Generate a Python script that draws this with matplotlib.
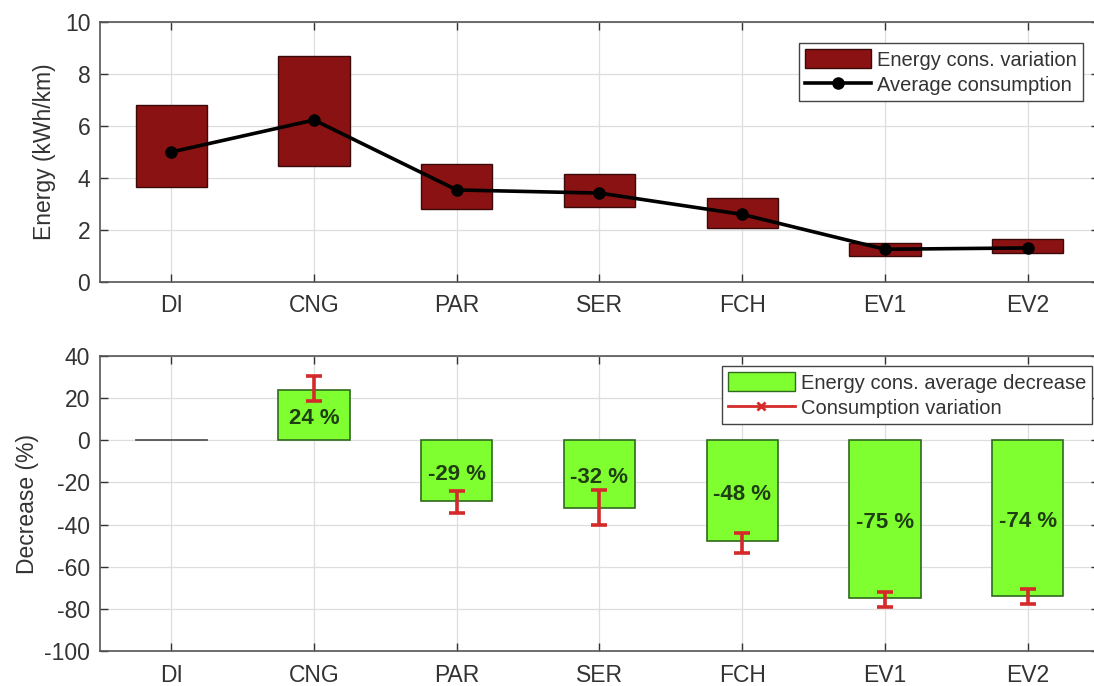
import matplotlib
matplotlib.use("Agg")
import matplotlib.pyplot as plt
from matplotlib.lines import Line2D
from matplotlib.patches import Patch
import numpy as np

plt.rcParams['font.family'] = ['Liberation Sans', 'DejaVu Sans']
plt.rcParams['axes.unicode_minus'] = False

# Vehicle powertrains
vehicles = ["DI", "CNG", "PAR", "SER", "FCH", "EV1", "EV2"]

# Energy consumption (kWh/km): range and average
cons_min = [3.65, 4.47, 2.80, 2.88, 2.07, 1.01, 1.10]
cons_max = [6.80, 8.70, 4.54, 4.15, 3.22, 1.49, 1.64]
cons_avg = [5.00, 6.23, 3.54, 3.42, 2.60, 1.26, 1.31]

# Average decrease relative to DI (%) and consumption variation bounds (%)
decrease = [0, 24, -29, -32, -48, -75, -74]
var_low = [0, 18.6, -34.3, -40.3, -53.6, -79.0, -77.7]
var_high = [0, 30.5, -24.0, -23.6, -43.8, -72.2, -70.6]

W, H = 1094, 686
fig = plt.figure(figsize=(W / 100, H / 100), dpi=100)
ax1 = fig.add_axes([100 / W, 1 - 282 / H, 999 / W, 260 / H])
ax2 = fig.add_axes([100 / W, 1 - 651 / H, 999 / W, 295 / H])

x = np.arange(1, len(vehicles) + 1)
txt = "#333333"
box_red = "#8a1212"
green = "#80ff30"
err_red = "#d42a2a"

for ax in (ax1, ax2):
    ax.set_xlim(0.5, 7.5)
    ax.set_xticks(x)
    ax.set_xticklabels(vehicles)
    ax.grid(True, color="#dedede", linewidth=0.9)
    ax.set_axisbelow(True)
    ax.tick_params(direction="in", length=6, width=1.0, colors="#333333",
                   labelcolor=txt, labelsize=16.5, top=True, right=True)
    ax.tick_params(axis="x", pad=9)
    ax.tick_params(axis="y", pad=7)
    for s in ax.spines.values():
        s.set_color("#555555")
        s.set_linewidth(1.2)

# Top panel: consumption ranges and averages
heights = np.array(cons_max) - np.array(cons_min)
ax1.bar(x, heights, bottom=cons_min, width=0.5, color=box_red,
        edgecolor="#3a0a0a", linewidth=1.0, zorder=2)
ax1.plot(x, cons_avg, color="black", linewidth=2.6, marker="o",
         markersize=8, zorder=3)
ax1.set_ylim(0, 10)
ax1.set_yticks(range(0, 11, 2))
ax1.set_ylabel("Energy (kWh/km)", fontsize=16.5, color=txt, labelpad=6)

h1 = [Patch(facecolor=box_red, edgecolor="#3a0a0a"),
      Line2D([], [], color="black", linewidth=2.6, marker="o", markersize=8)]
leg1 = ax1.legend(h1, ["Energy cons. variation", "Average consumption"],
                  loc="upper right", bbox_to_anchor=(0.984, 0.919),
                  borderaxespad=0, fontsize=14.5, handlelength=3.3,
                  handleheight=1.1, labelspacing=0.25, borderpad=0.3,
                  handletextpad=0.3, fancybox=False, framealpha=1,
                  edgecolor="#444444")
leg1.get_frame().set_linewidth(1.0)
for t in leg1.get_texts():
    t.set_color(txt)

# Bottom panel: average decrease with variation
for xi, d in zip(x, decrease):
    if d == 0:
        ax2.plot([xi - 0.25, xi + 0.25], [0, 0], color="#555555",
                 linewidth=1.3, zorder=2)
ax2.bar(x[1:], decrease[1:], width=0.5, color=green, edgecolor="#2f6a1f",
        linewidth=1.2, zorder=2)
dec = np.array(decrease[1:], dtype=float)
yerr = [dec - np.array(var_low[1:]), np.array(var_high[1:]) - dec]
ax2.errorbar(x[1:], dec, yerr=yerr, fmt="none", ecolor=err_red,
             elinewidth=2.6, capsize=6, capthick=2.6, zorder=4)
for xi, d in zip(x[1:], decrease[1:]):
    ax2.text(xi, d / 2 - 1.5, f"{d} %", ha="center", va="center",
             fontsize=16, fontweight="bold", color="#1f3f12", zorder=5)
ax2.set_ylim(-100, 40)
ax2.set_yticks(range(-100, 41, 20))
ax2.set_ylabel("Decrease (%)", fontsize=16.5, color=txt, labelpad=4)

h2 = [Patch(facecolor=green, edgecolor="#2f6a1f"),
      Line2D([], [], color=err_red, linewidth=2, marker="x", markersize=6,
             markeredgewidth=2)]
leg2 = ax2.legend(h2, ["Energy cons. average decrease", "Consumption variation"],
                  loc="upper right", bbox_to_anchor=(0.993, 0.966),
                  borderaxespad=0, fontsize=14.5, handlelength=3.3,
                  handleheight=1.1, labelspacing=0.25, borderpad=0.3,
                  handletextpad=0.3, fancybox=False, framealpha=1,
                  edgecolor="#444444")
leg2.get_frame().set_linewidth(1.0)
for t in leg2.get_texts():
    t.set_color(txt)

fig.savefig("out.png", dpi=100)
